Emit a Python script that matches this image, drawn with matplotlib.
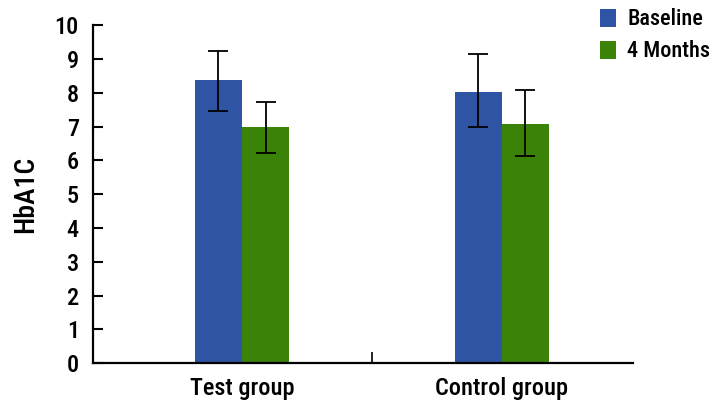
import matplotlib
matplotlib.use("Agg")
import matplotlib.pyplot as plt
import numpy as np

categories = ["Test group", "Control group"]
series_names = ["Baseline", "4 Months"]
baseline = [8.37, 8.02]
baseline_lo = [7.46, 6.99]
baseline_hi = [9.24, 9.15]
months4 = [6.98, 7.09]
months4_lo = [6.21, 6.12]
months4_hi = [7.74, 8.08]
yticks = list(range(0, 11))

plt.rcParams['font.family'] = ['Roboto Condensed', 'DejaVu Sans']
plt.rcParams['font.weight'] = 500

fig = plt.figure(figsize=(7.15, 4.11), dpi=100)
ax = fig.add_axes([0.1297, 0.116, 0.7553, 0.823])

x = np.arange(len(categories))
w = 0.182
blue = "#2E54A3"
green = "#3A8208"

b_err = [np.array(baseline) - np.array(baseline_lo), np.array(baseline_hi) - np.array(baseline)]
m_err = [np.array(months4) - np.array(months4_lo), np.array(months4_hi) - np.array(months4)]

ax.bar(x - w/2, baseline, w, color=blue, label=series_names[0], zorder=2)
ax.bar(x + w/2, months4, w, color=green, label=series_names[1], zorder=2)
ax.errorbar(x - w/2, baseline, yerr=b_err, fmt='none', ecolor='black', elinewidth=1.3, capsize=7, capthick=1.3, zorder=3)
ax.errorbar(x + w/2, months4, yerr=m_err, fmt='none', ecolor='black', elinewidth=1.3, capsize=7, capthick=1.3, zorder=3)

ax.set_xlim(-0.575, 1.504)
ax.set_ylim(0, 10)
ax.set_yticks(yticks)
ax.set_xticks(x)
ax.set_xticklabels(categories, fontsize=17.5)
ax.set_xticks([0.5], minor=True)
ax.tick_params(axis='x', which='major', length=0, pad=10)
ax.tick_params(axis='x', which='minor', direction='in', length=8, width=1.2)
ax.tick_params(axis='y', direction='in', length=7, width=1.5, labelsize=17.5, pad=10)
for s in ['top', 'right']:
    ax.spines[s].set_visible(False)
for s in ['left', 'bottom']:
    ax.spines[s].set_linewidth(1.6)

ax.set_ylabel("HbA1C", fontsize=20, fontweight=500, labelpad=11)

leg = fig.legend(loc='upper left', bbox_to_anchor=(0.821, 1.012), frameon=False, fontsize=16,
                 handlelength=0.7, handleheight=0.85, handletextpad=0.5, labelspacing=0.45,
                 borderaxespad=0.2)

fig.savefig("out.png", dpi=100)
